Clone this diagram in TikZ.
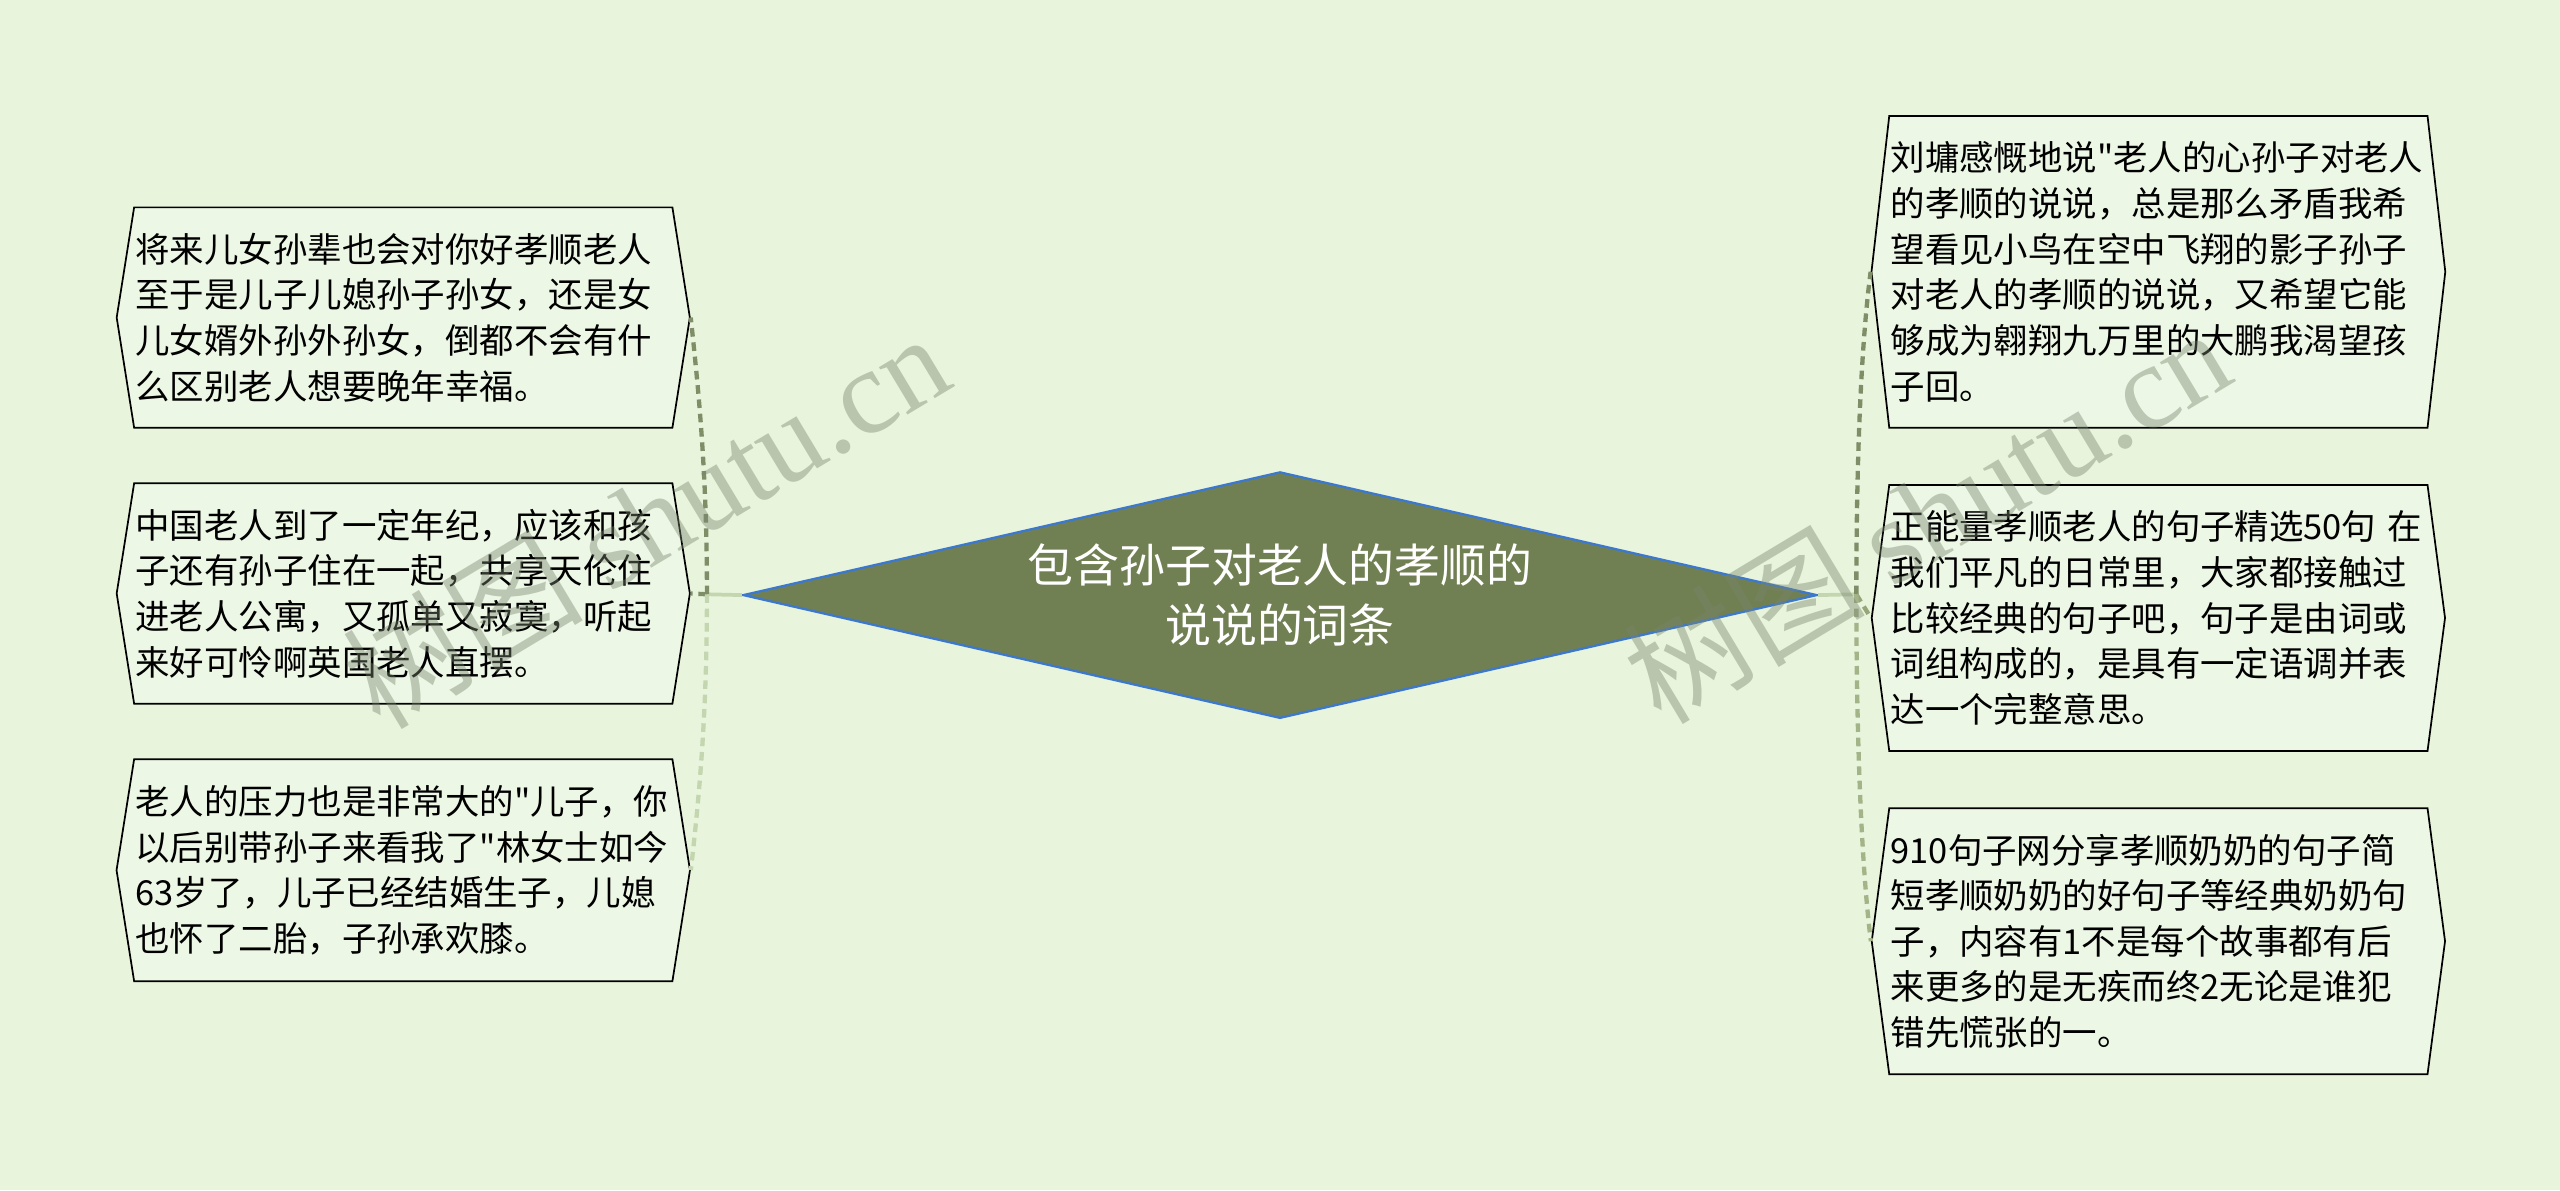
\documentclass[tikz,border=0pt]{standalone}
\usepackage{fontspec}
\setmainfont{Noto Sans CJK SC}[Ligatures=TeXOff]
\newfontfamily\wmlatin{Liberation Serif}
\usetikzlibrary{shapes.geometric,shapes.symbols}
\definecolor{bgc}{RGB}{232,245,220}
\definecolor{boxc}{RGB}{237,247,229}
\definecolor{olivec}{RGB}{113,128,82}
\definecolor{rimc}{RGB}{60,120,205}
\definecolor{linkdark}{RGB}{128,142,104}
\definecolor{linkmid}{RGB}{150,166,120}
\definecolor{linklight}{RGB}{196,214,176}
\definecolor{markc}{RGB}{120,132,110}

\begin{document}
\begin{tikzpicture}[x=0.02cm, y=-0.02cm,
    leaf/.style={signal, signal to=east and west, draw=black, line width=0.6pt,
      fill=boxc, text width=6.56cm, inner xsep=0.5pt, inner ysep=0pt,
      align=left, font=\fontsize{12pt}{15.9pt}\selectfont},
    link/.style={dashed, dash pattern=on 3pt off 2pt, line width=1.5pt},
    wmtext/.style={rotate=31, opacity=0.42, text=markc, font=\fontsize{42pt}{42pt}\selectfont}]
  \fill[bgc] (0,0) rectangle (1568,729);
  \useasboundingbox (0,0) rectangle (1568,729);

  \node[diamond, draw=rimc, line width=0.8pt, fill=olivec, text=white,
    minimum width=13.16cm, minimum height=3.02cm, inner sep=0pt, aspect=4.36,
    align=center, font=\fontsize{16pt}{21pt}\selectfont] (root) at (784,364.5)
    {包含孙子对老人的孝顺的\\说说的词条};

  % left side
  \node[leaf, minimum height=2.7cm, signal pointer angle=162] (l1) at (247,194.5)
    {将来儿女孙辈也会对你好孝顺老人\\至于是儿子儿媳孙子孙女，还是女\\儿女婿外孙外孙女，倒都不会有什\\么区别老人想要晚年幸福。};
  \node[leaf, minimum height=2.7cm, signal pointer angle=162] (l2) at (247,363.5)
    {中国老人到了一定年纪，应该和孩\\子还有孙子住在一起，共享天伦住\\进老人公寓，又孤单又寂寞，听起\\来好可怜啊英国老人直摆。};
  \node[leaf, minimum height=2.72cm, signal pointer angle=162] (l3) at (247,533)
    {老人的压力也是非常大的"儿子，你\\以后别带孙子来看我了"林女士如今\\63岁了，儿子已经结婚生子，儿媳\\也怀了二胎，子孙承欢膝。};

  % right side
  \node[leaf, minimum height=3.82cm, signal pointer angle=167] (r1) at (1322,166.5)
    {刘墉感慨地说"老人的心孙子对老人\\的孝顺的说说，总是那么矛盾我希\\望看见小鸟在空中飞翔的影子孙子\\对老人的孝顺的说说，又希望它能\\够成为翱翔九万里的大鹏我渴望孩\\子回。};
  \node[leaf, minimum height=3.26cm, signal pointer angle=165] (r2) at (1322,378.5)
    {正能量孝顺老人的句子精选50句 在\\我们平凡的日常里，大家都接触过\\比较经典的句子吧，句子是由词或\\词组构成的，是具有一定语调并表\\达一个完整意思。};
  \node[leaf, minimum height=3.26cm, signal pointer angle=165] (r3) at (1322,576.5)
    {910句子网分享孝顺奶奶的句子简\\短孝顺奶奶的好句子等经典奶奶句\\子，内容有1不是每个故事都有后\\来更多的是无疾而终2无论是谁犯\\错先慌张的一。};

  \coordinate (jl) at (433,364);
  \coordinate (jr) at (1137,364);
  \draw[linklight, line width=1.3pt] (root.west) -- (jl);
  \draw[linklight, line width=1.3pt] (root.east) -- (jr);
  \draw[link, linkdark] (jl) .. controls (433,290) and (428,240) .. (l1.east);
  \draw[link, linkdark] (jl) -- (l2.east);
  \draw[link, linklight] (jl) .. controls (433,440) and (428,490) .. (l3.east);
  \draw[link, linkdark] (jr) .. controls (1137,280) and (1140,210) .. (r1.west);
  \draw[link, linkmid] (jr) -- (r2.west);
  \draw[link, linkmid!70!linklight] (jr) .. controls (1137,450) and (1140,530) .. (r3.west);

  % watermark
  \node[wmtext] (wm1) at (395,318) {树图 {\wmlatin shutu.cn}};
  \node[wmtext] (wm2) at (1180,315) {树图 {\wmlatin shutu.cn}};
\end{tikzpicture}
\end{document}
